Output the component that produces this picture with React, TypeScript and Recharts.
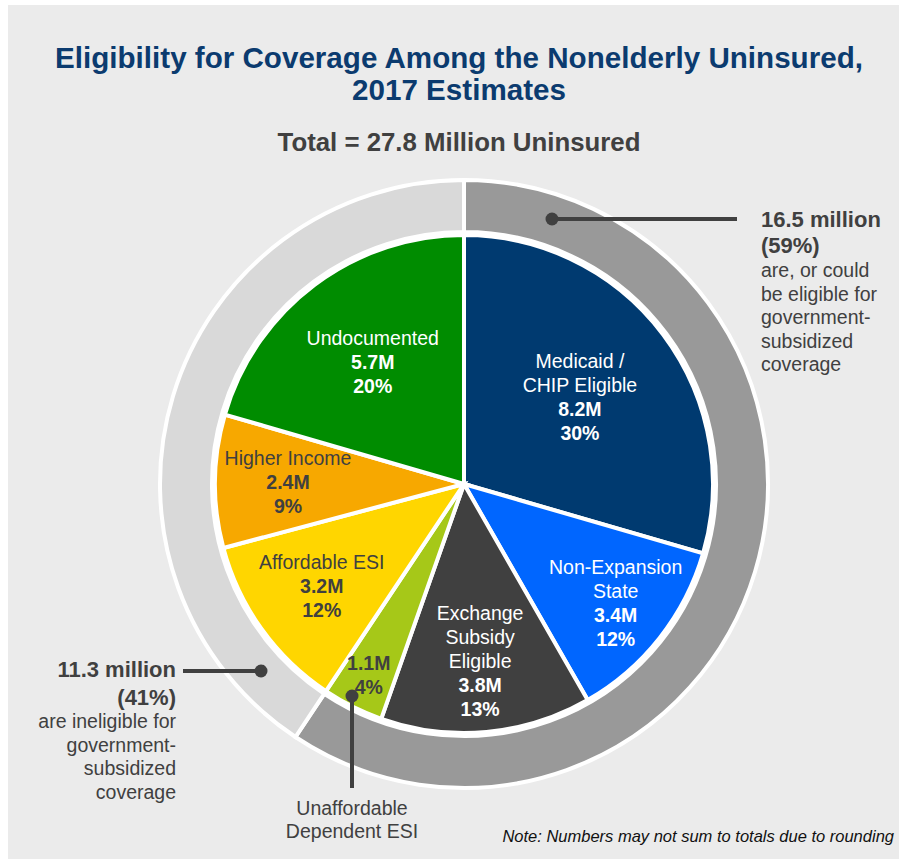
import React from 'react';
import { PieChart, Pie, Cell } from 'recharts';

// inner pie: uninsured by eligibility group (millions)
const categories = [
  'Medicaid / CHIP Eligible',
  'Non-Expansion State',
  'Exchange Subsidy Eligible',
  'Unaffordable Dependent ESI',
  'Affordable ESI',
  'Higher Income',
  'Undocumented',
];
const values = [8.2, 3.4, 3.8, 1.1, 3.2, 2.4, 5.7];
const percents = [30, 12, 13, 4, 12, 9, 20];
const nameLines = [
  ['Medicaid /', 'CHIP Eligible'],
  ['Non-Expansion', 'State'],
  ['Exchange', 'Subsidy', 'Eligible'],
  [],
  ['Affordable ESI'],
  ['Higher Income'],
  ['Undocumented'],
];

// outer ring: eligible vs ineligible
const groups = ['Eligible for subsidized coverage', 'Ineligible for subsidized coverage'];
const groupValues = [16.5, 11.3];
const groupPercents = [59, 41];

const innerData = categories.map((name, i) => ({ name, value: values[i] }));
const ringData = groups.map((name, i) => ({ name, value: groupValues[i] }));

const COLORS = ['#003a70', '#0066ff', '#404040', '#a6c818', '#ffd600', '#f7a800', '#008c00'];
const TEXT_COLORS = ['#fff', '#fff', '#fff', '#404040', '#404040', '#404040', '#fff'];
const RING_COLORS = ['#999999', '#d9d9d9'];
const LABEL_R = [145, 193, 178, 213, 175, 176, 152];

const RADIAN = Math.PI / 180;
const FONT = '"Liberation Sans", Arial, sans-serif';
const GRAY = '#404040';
const CX = 456;
const CY = 479;

const renderLabel = (p: any) => {
  const i = p.index;
  const a = -p.midAngle * RADIAN;
  const x = p.cx + LABEL_R[i] * Math.cos(a);
  const y = p.cy + LABEL_R[i] * Math.sin(a);
  const lines = [
    ...nameLines[i].map((t) => ({ t, bold: false })),
    { t: values[i].toFixed(1) + 'M', bold: true },
    { t: percents[i] + '%', bold: true },
  ];
  const lh = 24;
  const y0 = y - ((lines.length - 1) * lh) / 2;
  return (
    <g key={'lbl' + i}>
      {lines.map((l, k) => (
        <text
          key={k}
          x={x}
          y={y0 + k * lh}
          textAnchor="middle"
          dominantBaseline="central"
          fill={TEXT_COLORS[i]}
          fontSize={19.5}
          fontWeight={l.bold ? 'bold' : 'normal'}
          fontFamily={FONT}
        >
          {l.t}
        </text>
      ))}
    </g>
  );
};

const App: React.FC = () => {
  return (
    <div
      style={{
        position: 'fixed',
        left: 8,
        top: 5,
        width: 891,
        height: 854,
        background: '#ebebeb',
        fontFamily: FONT,
        overflow: 'hidden',
      }}
    >
      <PieChart width={891} height={854} margin={{ top: 0, right: 0, bottom: 0, left: 0 }}>
        <Pie
          data={ringData}
          dataKey="value"
          cx={CX}
          cy={CY}
          startAngle={90}
          endAngle={-270}
          innerRadius={252}
          outerRadius={304}
          stroke="#fff"
          strokeWidth={4}
          isAnimationActive={false}
        >
          {ringData.map((d, i) => (
            <Cell key={d.name} fill={RING_COLORS[i]} />
          ))}
        </Pie>
        <Pie
          data={innerData}
          dataKey="value"
          cx={CX}
          cy={CY}
          startAngle={90}
          endAngle={-270}
          outerRadius={249}
          stroke="#fff"
          strokeWidth={4}
          label={renderLabel}
          labelLine={false}
          isAnimationActive={false}
        >
          {innerData.map((d, i) => (
            <Cell key={d.name} fill={COLORS[i]} />
          ))}
        </Pie>
      </PieChart>

      <svg
        width={891}
        height={854}
        style={{ position: 'absolute', left: 0, top: 0, pointerEvents: 'none' }}
        fontFamily={FONT}
      >
        <text x={451} y={63} textAnchor="middle" fontSize={29.6} fontWeight="bold" fill="#0b3b6f">
          Eligibility for Coverage Among the Nonelderly Uninsured,
        </text>
        <text x={451} y={95} textAnchor="middle" fontSize={29.6} fontWeight="bold" fill="#0b3b6f">
          2017 Estimates
        </text>
        <text x={451} y={146} textAnchor="middle" fontSize={25.8} fontWeight="bold" fill={GRAY}>
          Total = 27.8 Million Uninsured
        </text>

        {/* right annotation */}
        <line x1={544} y1={214} x2={729} y2={214} stroke={GRAY} strokeWidth={4} />
        <circle cx={544} cy={214} r={6.5} fill={GRAY} />
        <text x={753} y={222} fontSize={22} fontWeight="bold" fill={GRAY}>
          {groupValues[0]} million
        </text>
        <text x={753} y={248} fontSize={22} fontWeight="bold" fill={GRAY}>
          ({groupPercents[0]}%)
        </text>
        {['are, or could', 'be eligible for', 'government-', 'subsidized', 'coverage'].map((t, k) => (
          <text key={t} x={753} y={272 + k * 23.5} fontSize={19.5} fill={GRAY}>
            {t}
          </text>
        ))}

        {/* left annotation */}
        <line x1={175} y1={666} x2={253} y2={666} stroke={GRAY} strokeWidth={4} />
        <circle cx={253} cy={666} r={6.5} fill={GRAY} />
        <text x={168} y={672} textAnchor="end" fontSize={22} fontWeight="bold" fill={GRAY}>
          {groupValues[1]} million
        </text>
        <text x={168} y={700} textAnchor="end" fontSize={22} fontWeight="bold" fill={GRAY}>
          ({groupPercents[1]}%)
        </text>
        {['are ineligible for', 'government-', 'subsidized', 'coverage'].map((t, k) => (
          <text key={t} x={168} y={723 + k * 23.5} textAnchor="end" fontSize={19.5} fill={GRAY}>
            {t}
          </text>
        ))}

        {/* unaffordable dependent ESI callout */}
        <line x1={344} y1={691} x2={344} y2={783} stroke={GRAY} strokeWidth={4} />
        <circle cx={344} cy={691} r={6.5} fill={GRAY} />
        <text x={344} y={810} textAnchor="middle" fontSize={19.5} fill={GRAY}>
          Unaffordable
        </text>
        <text x={344} y={833} textAnchor="middle" fontSize={19.5} fill={GRAY}>
          Dependent ESI
        </text>

        <text x={886} y={837} textAnchor="end" fontSize={16.5} fontStyle="italic" fill="#111">
          Note: Numbers may not sum to totals due to rounding
        </text>
      </svg>
    </div>
  );
};

export default App;
